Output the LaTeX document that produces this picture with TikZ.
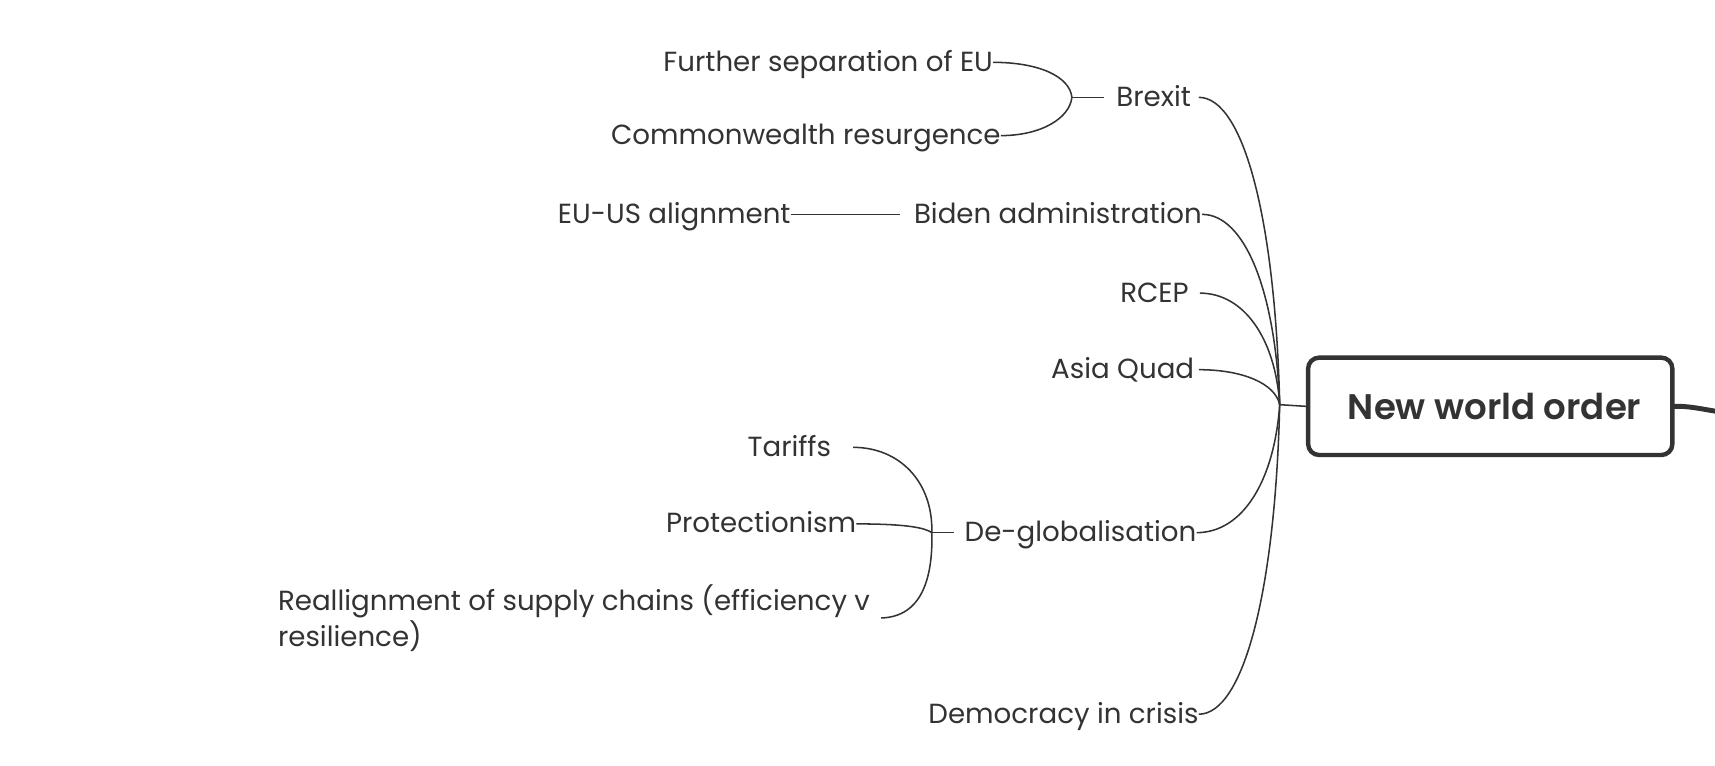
\documentclass[tikz,border=0pt]{standalone}
\usepackage{fontspec}
\setmainfont{Poppins}
\newfontfamily\titlefont{Poppins SemiBold}
\usetikzlibrary{calc}
\definecolor{ink}{HTML}{333333}
\newcommand\lowr[1]{\raisebox{-5.5pt}{#1}}
\tikzset{
  lbl/.style={inner sep=0pt, text=ink, font=\fontsize{25.3}{33}\selectfont},
  conn/.style={draw=ink, line width=1.4pt},
}
\begin{document}
\begin{tikzpicture}[x=1pt,y=-1pt]
\clip (0,0) rectangle (1568,700);
\fill[white] (0,0) rectangle (1568,700);
% central box
\node[draw=ink, line width=4pt, rounded corners=10pt, minimum width=333pt, minimum height=89pt,
      text=ink, font=\fontsize{32.5}{36}\titlefont] (nwo) at (1362.5,371.5) {\hspace{8pt}New world order};
\coordinate (hub) at (1170,370);
% main branches
\node[lbl, anchor=mid east] (brexit) at (1089,89) {\lowr{Brexit}};
\node[lbl, anchor=mid east] (biden) at (1099,196) {\lowr{Biden administration}};
\node[lbl, anchor=mid east] (rcep) at (1087,268) {\lowr{RCEP}};
\node[lbl, anchor=mid east] (asia) at (1092,338) {\lowr{Asia Quad}};
\node[lbl, anchor=mid east] (deglob) at (1094,487) {\lowr{De-globalisation}};
\node[lbl, anchor=mid east] (democ) at (1096,653) {\lowr{Democracy in crisis}};
% sub branches
\node[lbl, anchor=mid east] (fsep) at (908,57) {\lowr{Further separation of EU}};
\node[lbl, anchor=mid east] (comm) at (915,124) {\lowr{Commonwealth resurgence}};
\node[lbl, anchor=mid east] (euus) at (723,196) {\lowr{EU-US alignment}};
\node[lbl, anchor=mid east] (tariffs) at (760,409) {\lowr{Tariffs}};
\node[lbl, anchor=mid east] (protect) at (783,479) {\lowr{Protectionism}};
\node[lbl, anchor=west, align=left] (realign) at (254,565) {Reallignment of supply chains (efficiency v\\resilience)};
\coordinate (j1) at (980,89);
\coordinate (j2) at (852,487);
% hub connectors
\draw[conn] (hub) -- (nwo.west);
\draw[conn] (brexit.mid east) ++(7,0) .. controls (1137,89) and (1166,201) .. (hub);
\draw[conn] (biden.mid east) .. controls (1138,196) and (1166,266) .. (hub);
\draw[conn] (rcep.mid east) ++(10,0) .. controls (1137,268) and (1166,309) .. (hub);
\draw[conn] (asia.mid east) ++(4,0) .. controls (1137,338) and (1166,351) .. (hub);
\draw[conn] (deglob.mid east) .. controls (1136,487) and (1165,440) .. (hub);
\draw[conn] (democ.mid east) .. controls (1137,653) and (1166,540) .. (hub);
% brexit children
\draw[conn] (j1) -- ($(brexit.mid west)+(-11,0)$);
\draw[conn] (fsep.mid east) .. controls (950,57) and (978,70) .. (j1);
\draw[conn] (comm.mid east) .. controls (952,124) and (978,108) .. (j1);
% biden child
\draw[conn] (euus.mid east) -- ($(biden.mid west)+(-13,0)$);
% deglob children
\draw[conn] (j2) -- ($(deglob.mid west)+(-10,0)$);
\draw[conn] (tariffs.mid east) ++(20,0) .. controls (822,409) and (853,440) .. (j2);
\draw[conn] (protect.mid east) .. controls (832,479) and (846,483) .. (j2);
\draw[conn] ($(realign.east)+(10,0)$) .. controls (842,564) and (853,530) .. (j2);
% outgoing connector to the right
\draw[draw=ink, line width=4.5pt, line cap=round] (nwo.east) .. controls (1550,371) and (1565,377) .. (1600,380);
\end{tikzpicture}
\end{document}
